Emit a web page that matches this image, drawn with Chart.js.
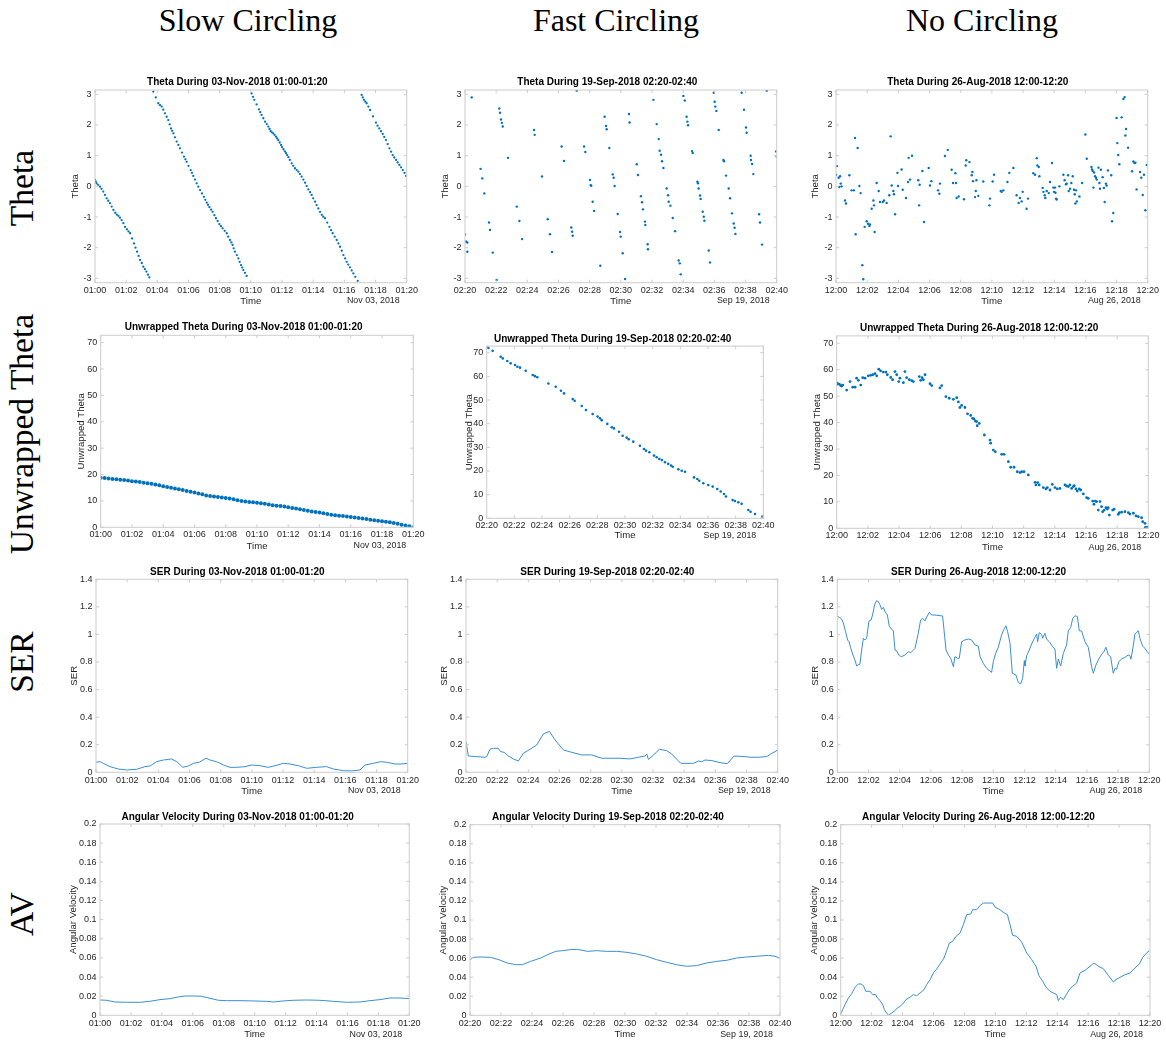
<!DOCTYPE html>
<html><head><meta charset="utf-8">
<script src="https://cdn.jsdelivr.net/npm/chart.js@4.4.0/dist/chart.umd.min.js"></script>
<style>
body{margin:0;background:#fff;width:1166px;height:1040px;position:relative;overflow:hidden;}
canvas{position:absolute;}
.hdr{position:absolute;font-family:"Liberation Serif","DejaVu Serif",serif;font-size:32px;color:#000;white-space:nowrap;transform:translate(-50%,-50%);line-height:1;}
.rowl{position:absolute;font-family:"Liberation Serif","DejaVu Serif",serif;font-size:33.5px;color:#000;white-space:nowrap;transform:translate(-50%,-50%) rotate(-90deg);line-height:1;}
</style></head><body>
<div class="hdr" style="left:248px;top:20px">Slow Circling</div>
<div class="hdr" style="left:616px;top:20px">Fast Circling</div>
<div class="hdr" style="left:982px;top:20px">No Circling</div>
<div class="rowl" style="left:22px;top:188px">Theta</div>
<div class="rowl" style="left:22px;top:434px">Unwrapped Theta</div>
<div class="rowl" style="left:22px;top:662px">SER</div>
<div class="rowl" style="left:22px;top:914px">AV</div>
<script>
// ---------- tick labels ----------
const slowTicks = ['01:00','01:02','01:04','01:06','01:08','01:10','01:12','01:14','01:16','01:18','01:20'];
const fastTicks = ['02:20','02:22','02:24','02:26','02:28','02:30','02:32','02:34','02:36','02:38','02:40'];
const noTicks   = ['12:00','12:02','12:04','12:06','12:08','12:10','12:12','12:14','12:16','12:18','12:20'];
const xTickValues = [0,2,4,6,8,10,12,14,16,18,20];
const thetaTicks = [-3,-2,-1,0,1,2,3];
const unwrapTicks = [0,10,20,30,40,50,60,70];
const serTicks = [0,0.2,0.4,0.6,0.8,1,1.2,1.4];
const avTicks = [0,0.02,0.04,0.06,0.08,0.1,0.12,0.14,0.16,0.18,0.2];
const dates = ['Nov 03, 2018','Sep 19, 2018','Aug 26, 2018'];
const periods = ['03-Nov-2018 01:00-01:20','19-Sep-2018 02:20-02:40','26-Aug-2018 12:00-12:20'];

// ---------- data: [minutes from start, value] ----------
const slowTheta = [[0,0.21],[0.05,0.15],[0.1,0.1],[0.2,0.05],[0.32,-0.01],[0.42,-0.08],[0.53,-0.17],[0.64,-0.28],[0.75,-0.39],[0.85,-0.47],[0.96,-0.55],[1.07,-0.66],[1.18,-0.77],[1.3,-0.86],[1.4,-0.92],[1.5,-0.96],[1.6,-1.02],[1.71,-1.1],[1.82,-1.2],[1.93,-1.32],[2.05,-1.4],[2.15,-1.47],[2.25,-1.53],[2.38,-1.7],[2.5,-1.86],[2.6,-2.0],[2.7,-2.13],[2.8,-2.27],[2.89,-2.4],[3.0,-2.5],[3.1,-2.62],[3.2,-2.7],[3.3,-2.78],[3.4,-2.88],[3.49,-2.97],
[3.74,3.09],[3.9,2.9],[4.06,2.71],[4.17,2.65],[4.28,2.6],[4.38,2.5],[4.49,2.38],[4.6,2.27],[4.7,2.16],[4.79,2.02],[4.88,1.89],[4.95,1.81],[5.03,1.73],[5.13,1.6],[5.24,1.46],[5.35,1.35],[5.45,1.24],[5.58,1.1],[5.71,0.97],[5.8,0.88],[5.88,0.8],[6.0,0.67],[6.14,0.53],[6.22,0.44],[6.31,0.34],[6.42,0.22],[6.52,0.1],[6.63,-0.01],[6.74,-0.12],[6.86,-0.23],[6.99,-0.34],[7.08,-0.44],[7.17,-0.53],[7.25,-0.6],[7.34,-0.68],[7.45,-0.76],[7.55,-0.83],[7.66,-0.94],[7.76,-1.04],[7.87,-1.13],[7.98,-1.23],[8.08,-1.3],[8.19,-1.37],[8.32,-1.45],[8.45,-1.53],[8.55,-1.64],[8.66,-1.75],[8.75,-1.83],[8.83,-1.91],[8.9,-2.02],[8.98,-2.13],[9.1,-2.24],[9.2,-2.35],[9.28,-2.46],[9.37,-2.57],[9.45,-2.65],[9.52,-2.73],[9.62,-2.82],[9.73,-2.92],
[10.05,3.03],[10.14,2.92],[10.22,2.82],[10.37,2.67],[10.52,2.51],[10.6,2.42],[10.69,2.33],[10.8,2.22],[10.91,2.11],[11.02,2.03],[11.12,1.95],[11.2,1.87],[11.27,1.8],[11.35,1.76],[11.44,1.73],[11.52,1.68],[11.61,1.62],[11.69,1.56],[11.76,1.51],[11.85,1.43],[11.94,1.35],[12.0,1.28],[12.09,1.21],[12.18,1.14],[12.26,1.08],[12.33,1.02],[12.41,0.95],[12.5,0.86],[12.62,0.75],[12.72,0.67],[12.83,0.59],[12.94,0.53],[13.05,0.48],[13.15,0.4],[13.26,0.32],[13.37,0.22],[13.48,0.12],[13.58,0.01],[13.69,-0.1],[13.8,-0.19],[13.9,-0.28],[14.0,-0.39],[14.12,-0.5],[14.22,-0.61],[14.33,-0.72],[14.44,-0.83],[14.55,-0.93],[14.65,-0.99],[14.76,-1.04],[14.9,-1.18],[15.04,-1.32],[15.15,-1.43],[15.25,-1.53],[15.38,-1.64],[15.51,-1.75],[15.62,-1.86],[15.72,-1.97],[15.83,-2.1],[15.94,-2.24],[16.05,-2.35],[16.15,-2.46],[16.25,-2.55],[16.36,-2.64],[16.47,-2.74],[16.58,-2.84],[16.7,-2.95],[16.86,-3.08],
[17.11,2.98],[17.18,2.9],[17.26,2.82],[17.35,2.76],[17.43,2.71],[17.54,2.6],[17.65,2.49],[17.84,2.28],[18.03,2.08],[18.13,1.98],[18.24,1.89],[18.35,1.8],[18.46,1.71],[18.56,1.61],[18.67,1.51],[18.78,1.38],[18.89,1.24],[19.0,1.13],[19.1,1.02],[19.2,0.94],[19.32,0.86],[19.42,0.78],[19.53,0.7],[19.64,0.62],[19.75,0.53],[19.86,0.44],[19.96,0.34]];

const fastTheta = [[0,-1.57],[0.06,-1.8],[0.15,-1.83],[0.15,-2.13],[0.43,2.9],[1.0,0.57],[1.11,0.26],[1.24,-0.23],[1.54,-1.18],[1.6,-1.42],[1.78,-2.16],[2.03,-3.05],[2.2,2.54],[2.25,2.4],[2.31,2.18],[2.37,2.07],[2.42,1.95],[2.76,0.93],[3.32,-0.66],[3.49,-1.13],[3.66,-1.72],[4.43,1.84],[4.47,1.68],[4.94,0.32],[5.31,-1.07],[5.45,-1.56],[5.58,-2.14],[6.2,1.3],[6.35,0.83],[6.82,-1.34],[6.87,-1.48],[6.91,-1.61],[7.17,3.12],[7.64,1.3],[7.72,1.12],[8.02,0.21],[8.06,0.04],[8.1,0.02],[8.19,-0.5],[8.28,-0.8],[8.68,-2.59],[8.96,2.27],[9.05,1.97],[9.09,1.86],[9.26,1.25],[9.48,0.39],[9.54,0.28],[9.6,0.01],[9.8,-0.9],[9.95,-1.49],[9.99,-1.64],[10.12,-2.18],[10.27,-3.02],[10.52,2.36],[10.56,2.08],[11.02,0.72],[11.1,0.37],[11.29,-0.32],[11.36,-0.52],[11.42,-0.75],[11.55,-1.15],[11.57,-1.26],[11.72,-1.89],[11.74,-2.05],[12.09,2.82],[12.3,2.03],[12.43,1.54],[12.49,1.16],[12.58,1.03],[12.64,0.82],[12.73,0.6],[12.94,-0.07],[13.03,-0.29],[13.07,-0.5],[13.18,-0.63],[13.33,-1.03],[13.48,-1.46],[13.71,-2.42],[13.78,-2.51],[13.84,-2.87],[14.01,2.95],[14.1,2.8],[14.22,2.27],[14.27,2.11],[14.31,1.99],[14.57,1.15],[14.61,1.09],[14.91,0.15],[14.95,0.1],[14.99,-0.07],[15.08,-0.3],[15.12,-0.41],[15.25,-0.83],[15.32,-0.99],[15.36,-1.12],[15.64,-2.09],[15.72,-2.48],[15.96,3.05],[16.02,2.76],[16.06,2.6],[16.13,2.46],[16.28,1.84],[16.58,0.86],[16.62,0.82],[16.75,0.35],[16.92,-0.07],[17.01,-0.39],[17.13,-0.88],[17.24,-1.21],[17.3,-1.35],[17.35,-1.55],[17.75,3.05],[17.9,2.5],[18.03,1.92],[18.07,1.75],[18.33,1.0],[18.35,0.86],[18.42,0.73],[18.5,0.4],[18.87,-0.91],[18.93,-1.18],[19.06,-1.9],[19.36,3.12],[19.96,1.14],[20.0,0.97]];

const noTheta = [[0,0.38],[0.06,0.66],[0.17,0.28],[0.21,-0.02],[0.26,0.33],[0.3,0.09],[0.36,0.0],[0.58,-0.46],[0.64,-0.56],[0.86,0.36],[1.0,-0.13],[1.15,-0.13],[1.22,1.58],[1.26,-1.56],[1.39,1.25],[1.5,0.01],[1.58,-0.22],[1.69,-2.57],[1.75,-3.03],[1.84,-1.32],[1.97,-1.14],[2.05,-1.22],[2.14,-1.29],[2.18,-1.24],[2.29,-0.73],[2.4,-0.46],[2.44,-0.62],[2.48,-1.49],[2.61,0.11],[2.74,-0.15],[2.82,-0.51],[3.0,-0.51],[3.08,-0.46],[3.25,-0.54],[3.42,-0.29],[3.51,1.63],[3.57,0.03],[3.68,-0.15],[3.72,-0.26],[3.79,-0.91],[3.94,0.44],[3.98,0.01],[4.21,0.55],[4.28,-0.11],[4.49,-0.38],[4.62,0.14],[4.66,0.93],[4.75,0.22],[4.88,1.0],[5.28,0.2],[5.33,-0.62],[5.37,0.05],[5.54,0.5],[5.65,-1.16],[5.95,0.6],[6.03,0.03],[6.12,0.17],[6.55,-0.13],[6.63,-0.24],[6.67,0.09],[6.99,0.99],[7.17,1.19],[7.42,0.54],[7.51,0.11],[7.66,0.43],[7.7,0.11],[7.74,-0.38],[7.87,-0.33],[8.21,-0.42],[8.32,0.68],[8.36,0.85],[8.56,0.79],[8.71,0.36],[8.75,0.47],[8.79,0.17],[8.92,-0.35],[8.97,-0.15],[9.01,0.2],[9.13,-0.31],[9.45,0.16],[9.84,-0.62],[9.88,-0.4],[10.05,0.16],[10.14,0.38],[10.57,-0.15],[10.63,-0.18],[10.74,-0.13],[11.0,0.14],[11.12,0.44],[11.38,0.6],[11.59,-0.29],[11.72,-0.54],[11.8,-0.38],[11.91,-0.49],[11.98,-0.18],[12.23,-0.73],[12.32,-0.4],[12.66,0.43],[12.77,0.38],[12.88,0.92],[12.92,0.68],[13.01,0.63],[13.05,0.33],[13.26,-0.05],[13.31,-0.18],[13.39,-0.29],[13.43,-0.38],[13.52,-0.15],[13.65,-0.22],[13.73,0.14],[13.86,0.76],[13.95,-0.04],[13.99,-0.18],[14.05,-0.04],[14.08,-0.21],[14.12,-0.4],[14.16,-0.43],[14.33,0.0],[14.59,0.38],[14.67,0.2],[14.76,0.07],[14.8,0.09],[14.89,0.36],[14.93,-0.15],[15.02,-0.08],[15.1,0.11],[15.19,0.33],[15.27,-0.11],[15.32,-0.26],[15.36,-0.56],[15.4,-0.13],[15.45,-0.49],[15.62,-0.33],[15.79,0.11],[16.0,1.69],[16.09,0.9],[16.39,0.63],[16.43,0.55],[16.47,0.5],[16.52,-0.04],[16.56,0.45],[16.62,0.33],[16.69,0.28],[16.73,0.22],[16.84,0.61],[16.9,0.11],[16.94,-0.08],[17.0,0.54],[17.11,0.3],[17.19,-0.05],[17.24,-0.51],[17.32,0.09],[17.36,0.03],[17.45,0.52],[17.66,0.36],[17.71,-1.14],[17.79,-0.87],[18.0,2.23],[18.05,1.41],[18.11,1.02],[18.18,0.72],[18.33,2.25],[18.44,2.85],[18.52,2.91],[18.57,1.66],[18.61,1.87],[18.74,1.26],[19.0,0.49],[19.08,0.81],[19.15,0.76],[19.21,0.77],[19.29,-0.1],[19.51,0.47],[19.59,0.28],[19.68,-0.28],[19.76,0.38],[19.85,-0.78],[19.94,0.7]];

const slowUnwrapped = [[0,18.8],[0.25,18.7],[0.5,18.5],[0.75,18.3],[1,18.2],[1.25,18.0],[1.5,17.9],[1.75,17.7],[2,17.5],[2.25,17.4],[2.5,17.2],[2.75,16.9],[3,16.7],[3.25,16.5],[3.5,16.2],[3.75,15.9],[4,15.6],[4.25,15.3],[4.5,15.0],[4.75,14.7],[5,14.4],[5.25,14.1],[5.5,13.8],[5.75,13.5],[6,13.2],[6.25,12.8],[6.5,12.5],[6.75,12.1],[7,11.9],[7.25,11.7],[7.5,11.5],[7.75,11.3],[8,11.1],[8.25,10.9],[8.5,10.6],[8.75,10.3],[9,10.0],[9.25,9.8],[9.5,9.6],[9.75,9.5],[10,9.3],[10.25,9.1],[10.5,8.9],[10.75,8.6],[11,8.4],[11.25,8.2],[11.5,8.1],[11.75,7.9],[12,7.6],[12.25,7.3],[12.5,7.1],[12.75,6.8],[13,6.6],[13.25,6.3],[13.5,6.0],[13.75,5.8],[14,5.6],[14.25,5.3],[14.5,5.0],[14.75,4.8],[15,4.6],[15.25,4.4],[15.5,4.3],[15.75,4.1],[16,3.9],[16.25,3.7],[16.5,3.5],[16.75,3.3],[17,3.1],[17.25,2.9],[17.5,2.7],[17.75,2.5],[18,2.3],[18.25,2.1],[18.5,1.9],[18.75,1.6],[19,1.3],[19.25,1.0],[19.5,0.7],[19.75,0.4],[20,0.0]];

const fastUnwrapped = [[0,72.3],[0.12,72.0],[0.43,70.8],[1.01,68.3],[1.16,67.6],[1.49,66.5],[1.73,65.5],[2.05,64.8],[2.22,64.1],[2.41,63.7],[2.82,62.4],[3.33,60.6],[3.49,60.1],[3.66,59.6],[4.46,57.0],[4.99,55.6],[5.37,53.9],[5.59,52.8],[6.22,50.4],[6.36,49.7],[6.87,47.5],[7.18,45.8],[7.66,44.1],[8.02,43.0],[8.19,42.3],[8.31,41.5],[8.72,39.9],[9.04,38.5],[9.2,38.0],[9.57,36.6],[9.83,34.9],[10.12,34.1],[10.27,33.4],[10.6,32.4],[11.08,30.7],[11.37,29.3],[11.52,28.6],[11.76,27.9],[12.1,26.5],[12.29,25.8],[12.48,25.1],[12.67,24.6],[12.89,23.7],[13.13,23.0],[13.33,22.3],[13.45,21.8],[13.86,20.7],[14.1,20.1],[14.34,19.7],[14.99,17.3],[15.23,16.6],[15.37,15.9],[15.66,14.8],[16.02,14.1],[16.34,13.4],[16.67,12.4],[16.92,11.3],[17.16,10.3],[17.3,9.2],[17.78,7.7],[17.95,7.3],[18.19,6.8],[18.43,6.1],[18.92,3.5],[19.08,2.8],[19.4,1.8],[19.93,0.7],[20,0]];

const noUnwrapped = [[0,54.5],[0.04,54.9],[0.17,54.5],[0.26,54.0],[0.32,53.8],[0.39,54.2],[0.64,52.3],[0.86,55.5],[1.03,53.4],[1.18,53.4],[1.28,56.8],[1.39,56.0],[1.54,54.2],[1.67,57.0],[1.82,56.8],[2.03,57.7],[2.18,57.9],[2.31,58.1],[2.46,58.5],[2.57,57.7],[2.7,60.2],[2.82,59.6],[2.99,59.1],[3.16,59.1],[3.25,58.1],[3.47,57.1],[3.59,56.2],[3.74,59.3],[3.85,58.1],[3.98,55.5],[4.06,56.8],[4.28,55.1],[4.38,59.3],[4.49,57.0],[4.66,56.2],[4.81,55.9],[4.92,55.5],[5.3,57.4],[5.39,56.0],[5.48,57.0],[5.56,56.2],[5.67,58.1],[5.99,54.7],[6.1,54.0],[6.63,53.1],[6.74,54.0],[7.01,49.8],[7.22,49.2],[7.49,48.8],[7.7,49.4],[7.81,47.8],[7.91,45.7],[8.02,46.5],[8.23,45.7],[8.4,43.3],[8.6,42.7],[8.72,41.6],[8.81,41.4],[8.9,40.6],[8.98,40.4],[9.02,38.8],[9.15,39.7],[9.48,35.3],[9.84,33.4],[9.88,32.2],[10.05,29.6],[10.18,29.0],[10.59,28.0],[10.74,28.0],[11.02,25.2],[11.17,23.1],[11.38,23.1],[11.59,21.4],[11.76,21.1],[11.87,21.4],[12.02,21.4],[12.3,20.2],[12.73,17.4],[12.79,16.4],[12.9,17.3],[13.0,16.4],[13.26,15.4],[13.43,14.9],[13.52,15.4],[13.69,14.5],[13.84,16.6],[14.01,15.4],[14.16,14.9],[14.33,15.1],[14.65,16.4],[14.76,16.0],[14.87,15.8],[14.97,16.4],[15.08,15.1],[15.19,15.8],[15.25,16.1],[15.36,14.9],[15.44,14.1],[15.57,14.9],[15.66,14.5],[15.83,13.0],[16.04,11.6],[16.15,11.3],[16.43,10.3],[16.51,9.1],[16.6,10.3],[16.68,10.1],[16.79,6.9],[16.9,10.1],[17.0,8.2],[17.07,6.3],[17.17,6.9],[17.28,7.8],[17.37,7.3],[17.43,7.8],[17.5,5.0],[17.71,6.9],[17.8,7.2],[18.07,5.3],[18.14,5.9],[18.29,6.1],[18.5,6.3],[18.72,5.9],[18.82,5.4],[19.04,5.7],[19.21,4.7],[19.36,4.4],[19.57,4.0],[19.64,2.5],[19.79,1.9],[19.81,0.3],[19.94,0.4],[20,0]];

const slowSER = [[0,0.073],[0.26,0.077],[0.47,0.065],[0.9,0.041],[1.43,0.024],[1.97,0.017],[2.61,0.022],[3.14,0.041],[3.47,0.046],[3.89,0.077],[4.32,0.089],[4.86,0.097],[5.18,0.077],[5.35,0.06],[5.56,0.036],[5.93,0.046],[6.25,0.065],[6.63,0.073],[7.06,0.102],[7.32,0.089],[7.74,0.077],[8.17,0.053],[8.6,0.036],[9.03,0.036],[9.56,0.041],[9.99,0.053],[10.52,0.048],[11.06,0.036],[11.49,0.048],[12.02,0.065],[12.45,0.06],[12.98,0.048],[13.52,0.029],[14.16,0.036],[14.8,0.041],[15.23,0.024],[15.87,0.012],[16.41,0.01],[16.94,0.017],[17.26,0.053],[17.8,0.065],[18.27,0.077],[18.65,0.073],[19.19,0.06],[19.51,0.06],[20,0.065]];

const fastSER = [[0,0.222],[0.15,0.118],[0.68,0.114],[1.22,0.109],[1.33,0.114],[1.54,0.167],[1.75,0.174],[2.07,0.174],[2.22,0.15],[2.44,0.145],[2.72,0.118],[3.04,0.097],[3.36,0.082],[3.68,0.138],[4.11,0.167],[4.54,0.198],[4.96,0.278],[5.35,0.297],[5.71,0.235],[6.25,0.162],[6.78,0.145],[7.43,0.126],[8.06,0.126],[8.71,0.102],[9.35,0.102],[9.88,0.102],[10.52,0.097],[11.06,0.109],[11.49,0.118],[11.6,0.133],[11.7,0.094],[11.92,0.114],[12.41,0.167],[12.88,0.157],[13.2,0.133],[13.78,0.065],[14.6,0.065],[14.92,0.082],[15.13,0.077],[15.34,0.089],[15.77,0.085],[16.3,0.07],[16.77,0.063],[17.2,0.118],[17.91,0.114],[18.23,0.109],[18.76,0.109],[19.29,0.114],[20,0.162]];

const noSER = [[0,1.134],[0.13,1.124],[0.28,1.112],[0.38,1.085],[0.53,1.02],[0.66,0.96],[0.75,0.947],[0.85,0.907],[0.98,0.858],[1.13,0.815],[1.24,0.771],[1.37,0.783],[1.45,0.783],[1.56,0.887],[1.67,0.972],[1.77,0.96],[1.88,0.972],[2.03,1.098],[2.16,1.105],[2.26,1.141],[2.39,1.214],[2.52,1.245],[2.63,1.238],[2.74,1.214],[2.84,1.182],[2.95,1.197],[3.06,1.165],[3.21,1.141],[3.33,1.061],[3.48,1.037],[3.59,1.027],[3.7,0.887],[3.8,0.882],[3.97,0.846],[4.12,0.839],[4.34,0.851],[4.55,0.875],[4.72,0.868],[4.83,0.882],[4.98,0.899],[5.19,1.008],[5.34,1.105],[5.47,1.117],[5.62,1.098],[5.77,1.134],[5.9,1.161],[6.05,1.141],[6.26,1.141],[6.75,1.134],[6.97,0.887],[7.12,0.851],[7.27,0.827],[7.44,0.766],[7.54,0.839],[7.71,0.827],[7.82,0.827],[7.97,0.947],[8.18,0.96],[8.4,0.967],[8.61,0.96],[8.82,0.924],[9.04,0.916],[9.15,0.839],[9.36,0.79],[9.57,0.754],[9.89,0.725],[10.0,0.803],[10.15,0.863],[10.32,0.907],[10.53,0.996],[10.68,1.037],[10.81,1.063],[10.92,1.02],[11.07,0.935],[11.22,0.718],[11.45,0.706],[11.6,0.653],[11.75,0.641],[11.88,0.682],[11.99,0.81],[12.03,0.771],[12.14,0.846],[12.31,0.887],[12.46,0.931],[12.63,0.972],[12.78,1.003],[12.84,0.947],[12.95,1.013],[13.1,1.0],[13.16,0.972],[13.31,1.008],[13.42,0.967],[13.63,0.94],[13.78,0.916],[13.95,0.894],[14.06,0.754],[14.17,0.822],[14.32,0.771],[14.49,0.863],[14.7,0.924],[14.81,1.027],[14.96,1.051],[15.09,1.117],[15.24,1.136],[15.39,1.129],[15.51,1.027],[15.66,1.025],[15.88,0.947],[16.09,0.907],[16.3,0.766],[16.41,0.718],[16.58,0.778],[16.73,0.815],[16.94,0.856],[17.09,0.875],[17.22,0.907],[17.37,0.851],[17.52,0.839],[17.69,0.718],[17.8,0.754],[17.9,0.747],[18.05,0.803],[18.23,0.822],[18.44,0.834],[18.65,0.851],[18.76,0.846],[18.82,0.82],[18.93,0.887],[19.08,1.003],[19.29,1.027],[19.4,0.972],[19.57,0.916],[19.72,0.899],[19.87,0.875],[20,0.856]];

const slowAV = [[0,0.016],[0.43,0.0157],[0.97,0.0139],[1.72,0.0136],[2.59,0.0136],[3.23,0.0146],[3.88,0.0164],[4.53,0.0174],[5.06,0.0192],[5.5,0.0202],[6.03,0.0202],[6.57,0.0199],[7.11,0.0178],[7.65,0.0157],[8.19,0.0153],[9.05,0.0153],[9.91,0.015],[10.78,0.0146],[11.21,0.0139],[11.85,0.015],[12.5,0.0157],[13.36,0.016],[14.22,0.0157],[15.09,0.0146],[15.95,0.0136],[16.81,0.0139],[17.46,0.0153],[18.1,0.0164],[18.75,0.0181],[19.4,0.0181],[20,0.0174]];

const fastAV = [[0,0.058],[0.2,0.0608],[0.67,0.0612],[1.32,0.0608],[1.86,0.0584],[2.4,0.0549],[2.94,0.0531],[3.37,0.0531],[3.91,0.0566],[4.56,0.0601],[5.1,0.0643],[5.53,0.0671],[5.96,0.0678],[6.49,0.0689],[6.92,0.0692],[7.57,0.0671],[8.17,0.0678],[8.82,0.0671],[9.46,0.0671],[10.11,0.0661],[10.75,0.0643],[11.4,0.0619],[12.04,0.0584],[12.69,0.0556],[13.33,0.0531],[13.98,0.0514],[14.62,0.0521],[15.27,0.0549],[15.91,0.0566],[16.56,0.0577],[17.2,0.0601],[17.85,0.0612],[18.49,0.0619],[19.25,0.0629],[19.68,0.0619],[20,0.0601]];

const noAV = [[0,0.0014],[0.13,0.006],[0.28,0.0112],[0.5,0.0182],[0.71,0.0227],[0.93,0.0294],[1.14,0.0329],[1.31,0.0329],[1.47,0.0311],[1.62,0.0252],[1.9,0.0252],[2.07,0.0217],[2.26,0.0217],[2.37,0.0182],[2.54,0.0157],[2.72,0.0112],[2.82,0.006],[2.97,0.0024],[3.08,0.0],[3.3,0.0024],[3.51,0.0049],[3.66,0.0077],[3.84,0.0094],[4.01,0.0119],[4.22,0.0164],[4.48,0.0189],[4.7,0.0217],[4.91,0.0206],[5.13,0.0234],[5.39,0.0269],[5.56,0.0322],[5.78,0.0374],[5.99,0.0444],[6.21,0.0486],[6.42,0.0538],[6.68,0.0601],[6.85,0.0678],[7.03,0.0759],[7.24,0.0776],[7.46,0.0829],[7.72,0.0864],[7.93,0.0951],[8.15,0.1056],[8.41,0.1063],[8.53,0.1108],[8.79,0.1108],[9.0,0.115],[9.22,0.1178],[9.55,0.1178],[9.83,0.1178],[9.98,0.1136],[10.3,0.1108],[10.52,0.108],[10.78,0.1056],[10.95,0.0951],[11.12,0.0839],[11.38,0.0829],[11.7,0.0769],[12.03,0.0654],[12.35,0.0584],[12.63,0.0514],[12.82,0.0416],[13.06,0.0357],[13.28,0.0294],[13.53,0.0252],[13.75,0.0234],[13.97,0.0217],[14.07,0.0154],[14.22,0.0189],[14.4,0.0164],[14.61,0.0224],[14.83,0.028],[15.0,0.0304],[15.26,0.0339],[15.47,0.0444],[15.8,0.0472],[16.12,0.0514],[16.38,0.0549],[16.66,0.0514],[16.98,0.049],[17.3,0.042],[17.63,0.035],[17.8,0.0374],[18.06,0.0398],[18.38,0.0426],[18.71,0.0444],[19.03,0.0496],[19.31,0.0538],[19.53,0.0608],[19.78,0.0654],[19.96,0.0678]];

// ---------- layout (plot rectangles in page px) ----------
const BLUE = '#0072BD';
const LINE_BLUE = '#3b8ed2';
const FONT = '"Liberation Sans", Arial, Helvetica, sans-serif';
const rows = {
  theta:  {name:'Theta', yLabel:'Theta', yMin:-Math.PI, yMax:Math.PI, yTicks:thetaTicks},
  unwrap: {name:'Unwrapped Theta', yLabel:'Unwrapped Theta', yMin:0, yMax:72.8, yTicks:unwrapTicks},
  ser:    {name:'SER', yLabel:'SER', yMin:0, yMax:1.4, yTicks:serTicks},
  av:     {name:'Angular Velocity', yLabel:'Angular Velocity', yMin:0, yMax:0.2, yTicks:avTicks}
};
const colTicks = [slowTicks, fastTicks, noTicks];
const panels = [
 {row:'theta', col:0, data:slowTheta, kind:'dot', r:1.15, L:95, T:90, R:406.7, B:282.7, titleY:82.3, yOff:18.3, tickOff:8, timeOff:18.3},
 {row:'theta', col:1, data:fastTheta, kind:'dot', r:1.2, L:465, T:90, R:776.7, B:282.7, titleY:82.3, yOff:18.3, tickOff:8, timeOff:18.3},
 {row:'theta', col:2, data:noTheta, kind:'dot', r:1.2, L:836, T:90, R:1147.7, B:282.7, titleY:82.3, yOff:19.3, tickOff:8, timeOff:18.3},
 {row:'unwrap', col:0, data:slowUnwrapped, kind:'dot', r:2.0, L:100.7, T:335.3, R:413.3, B:527.3, titleY:327.3, yOff:18, tickOff:7.7, timeOff:18.7},
 {row:'unwrap', col:1, data:fastUnwrapped, kind:'dot', r:1.3, L:486.7, T:346.1, R:763.3, B:518.3, titleY:339, yOff:16.7, tickOff:7.4, timeOff:17.4},
 {row:'unwrap', col:2, data:noUnwrapped, kind:'dot', r:1.4, L:836.7, T:335.9, R:1148.3, B:528.3, titleY:328.3, yOff:18.4, tickOff:7.2, timeOff:18.8},
 {row:'ser', col:0, data:slowSER, kind:'line', L:96, T:579.3, R:407.7, B:772.3, titleY:572.3, yOff:21, tickOff:8.4, timeOff:18.7},
 {row:'ser', col:1, data:fastSER, kind:'line', L:466, T:579.3, R:777.7, B:772.3, titleY:572.3, yOff:21, tickOff:8.4, timeOff:18.7},
 {row:'ser', col:2, data:noSER, kind:'line', L:837.3, T:579.3, R:1149.3, B:772.3, titleY:572.3, yOff:21.3, tickOff:8.4, timeOff:18.7},
 {row:'av', col:0, data:slowAV, kind:'line', L:100, T:824, R:409.3, B:1015.3, titleY:817.3, yOff:26, tickOff:8.7, timeOff:19.4},
 {row:'av', col:1, data:fastAV, kind:'line', L:470, T:824.7, R:780, B:1015.3, titleY:817.3, yOff:26, tickOff:8.7, timeOff:19.4},
 {row:'av', col:2, data:noAV, kind:'line', L:840.7, T:824.7, R:1150, B:1015.3, titleY:817.3, yOff:25.7, tickOff:8.7, timeOff:19.4}
];

const TICK_FS = 9, LAB_FS = 9.6, TITLE_FS = 10;
const BOX = '#cccccc';
const TXT = '#262626';

const matlabBox = {
  id: 'matlabBox',
  afterDraw(chart, args, opts) {
    const {ctx, chartArea: a, scales: {x, y}} = chart;
    ctx.save();
    ctx.strokeStyle = BOX; ctx.lineWidth = 1;
    ctx.strokeRect(a.left, a.top, a.right - a.left, a.bottom - a.top);
    ctx.beginPath();
    x.ticks.forEach(t => { const px = x.getPixelForValue(t.value);
      ctx.moveTo(px, a.bottom); ctx.lineTo(px, a.bottom - 3);
      ctx.moveTo(px, a.top); ctx.lineTo(px, a.top + 3); });
    y.ticks.forEach(t => { const py = y.getPixelForValue(t.value);
      ctx.moveTo(a.left, py); ctx.lineTo(a.left + 3, py);
      ctx.moveTo(a.right, py); ctx.lineTo(a.right - 3, py); });
    ctx.stroke();
    ctx.fillStyle = TXT;
    ctx.font = '8.9px ' + FONT;
    ctx.textAlign = 'right'; ctx.textBaseline = 'middle';
    ctx.fillText(opts.date, a.right - 7, x.bottom - LAB_FS * 0.6 - 1);
    ctx.restore();
  }
};

function makeChart(p) {
  const rw = rows[p.row];
  const yLH = LAB_FS * 1.2, yPadTop = 2;
  const left = Math.floor(p.L - (p.yOff + yLH / 2 + yPadTop));
  const Wy = p.L - left;
  const tLH = TITLE_FS * 1.2;
  const tPadBot = p.T - p.titleY - tLH / 2;
  const top = Math.floor(p.T - (3 + tLH + tPadBot));
  const tPadTop = p.T - top - tLH - tPadBot;
  const Hx = p.timeOff + yLH / 2 + 1;
  const width = Math.ceil(p.R + 22 - left);
  const padR = width - (p.R - left);
  const height = Math.ceil(p.B + Hx + 2 - top);
  const padB = height - (p.B + Hx - top);

  const c = document.createElement('canvas');
  c.width = width; c.height = height;
  c.style.left = left + 'px'; c.style.top = top + 'px';
  c.style.width = width + 'px'; c.style.height = height + 'px';
  document.body.appendChild(c);

  const labels = colTicks[p.col];
  const ds = p.kind === 'dot'
    ? {data: p.data.map(d => ({x: d[0], y: d[1]})), showLine: false, pointRadius: p.r, pointBorderWidth: 0, backgroundColor: BLUE, borderColor: BLUE}
    : {data: p.data.map(d => ({x: d[0], y: d[1]})), showLine: true, pointRadius: 0, borderWidth: 1, borderColor: LINE_BLUE, tension: 0};

  new Chart(c, {
    type: 'scatter',
    data: {datasets: [ds]},
    plugins: [matlabBox],
    options: {
      responsive: false, animation: false, events: [],
      layout: {padding: {left: 0, top: 0, right: padR, bottom: padB}},
      plugins: {
        legend: {display: false}, tooltip: {enabled: false},
        title: {display: true, text: rw.name + ' During ' + periods[p.col], color: '#000',
          font: {family: FONT, size: TITLE_FS, weight: 'bold', lineHeight: 1.2},
          padding: {top: tPadTop, bottom: tPadBot}},
        matlabBox: {date: dates[p.col]}
      },
      scales: {
        x: {type: 'linear', min: 0, max: 20,
          afterBuildTicks: s => { s.ticks = xTickValues.map(v => ({value: v})); },
          afterFit: s => { s.height = Hx; },
          grid: {display: false, drawTicks: false}, border: {display: false},
          ticks: {autoSkip: false, maxRotation: 0, color: TXT, padding: p.tickOff - TICK_FS * 0.6,
            font: {family: FONT, size: TICK_FS, lineHeight: 1.2},
            callback: (v, i) => labels[i]},
          title: {display: true, text: 'Time', color: TXT, font: {family: FONT, size: LAB_FS, lineHeight: 1.2}, padding: {top: 0, bottom: 1}}
        },
        y: {type: 'linear', min: rw.yMin, max: rw.yMax,
          afterBuildTicks: s => { s.ticks = rw.yTicks.map(v => ({value: v})); },
          afterFit: s => { s.width = Wy; },
          grid: {display: false, drawTicks: false}, border: {display: false},
          ticks: {autoSkip: false, color: TXT, padding: 3.5,
            font: {family: FONT, size: TICK_FS, lineHeight: 1.2},
            callback: (v, i) => String(rw.yTicks[i])},
          title: {display: true, text: rw.yLabel, color: TXT, font: {family: FONT, size: LAB_FS, lineHeight: 1.2}, padding: {top: yPadTop, bottom: 0}}
        }
      }
    }
  });
}
panels.forEach(makeChart);
</script>
</body></html>
